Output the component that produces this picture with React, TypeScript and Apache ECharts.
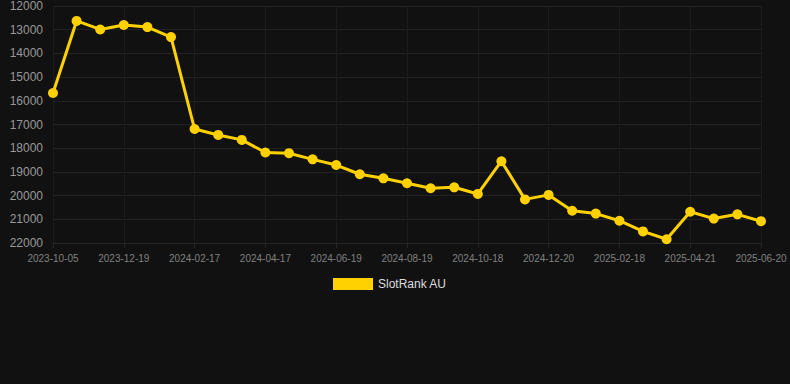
import React, { useEffect, useRef } from "react";
import * as echarts from "echarts";

const dates = [
  "2023-10-05", "2023-10-30", "2023-11-24", "2023-12-19", "2024-01-08", "2024-01-28",
  "2024-02-17", "2024-03-07", "2024-03-27", "2024-04-17", "2024-05-08", "2024-05-29",
  "2024-06-19", "2024-07-09", "2024-07-29", "2024-08-19", "2024-09-08", "2024-09-28",
  "2024-10-18", "2024-11-07", "2024-11-28", "2024-12-20", "2025-01-09", "2025-01-29",
  "2025-02-18", "2025-03-10", "2025-03-31", "2025-04-21", "2025-05-11", "2025-05-31",
  "2025-06-20",
];

const rankAU = [
  15670, 12630, 12990, 12800, 12890, 13310,
  17190, 17440, 17650, 18180, 18210, 18470,
  18710, 19100, 19270, 19480, 19690, 19650,
  19930, 18550, 20160, 19970, 20640, 20760,
  21060, 21510, 21840, 20680, 20970, 20790,
  21080,
];

const seriesName = "SlotRank AU";
const yMin = 12000;
const yMax = 22000;
const yStep = 1000;

export default function App() {
  const ref = useRef<HTMLDivElement>(null);
  useEffect(() => {
    document.body.style.margin = "0";
    document.body.style.background = "#111111";
    if (!ref.current) return;
    const chart = echarts.init(ref.current, undefined, { renderer: "svg" });
    chart.setOption({
      animation: false,
      backgroundColor: "#111111",
      grid: { left: 53, right: 29, top: 6, bottom: 141 },
      legend: {
        top: 273,
        left: 328,
        itemWidth: 40,
        itemHeight: 12,
        icon: "rect",
        textStyle: { color: "#dddddd", fontSize: 12, fontFamily: "Liberation Sans, Arial, sans-serif" },
        data: [seriesName],
      },
      xAxis: {
        type: "category",
        data: dates,
        boundaryGap: false,
        axisLine: { show: true, lineStyle: { color: "#262626" } },
        axisTick: { show: true, interval: 2, lineStyle: { color: "#262626" } },
        axisLabel: {
          interval: 2,
          color: "#808080",
          fontSize: 10,
          fontFamily: "Liberation Sans, Arial, sans-serif",
          margin: 10,
        },
        splitLine: { show: true, interval: 2, lineStyle: { color: "#1c1c1c" } },
      },
      yAxis: {
        type: "value",
        inverse: true,
        min: yMin,
        max: yMax,
        interval: yStep,
        axisLine: { show: false },
        axisTick: { show: false },
        axisLabel: {
          color: "#999999",
          fontSize: 12,
          fontFamily: "Liberation Sans, Arial, sans-serif",
          margin: 10,
          formatter: (v: number) => String(v),
        },
        splitLine: { show: true, lineStyle: { color: "#222222" } },
      },
      series: [
        {
          name: seriesName,
          type: "line",
          data: rankAU,
          symbol: "circle",
          symbolSize: 10,
          lineStyle: { color: "#FFD100", width: 3 },
          itemStyle: { color: "#FFD100" },
        },
      ],
    });
    return () => chart.dispose();
  }, []);
  return <div ref={ref} style={{ width: 790, height: 384 }} />;
}
